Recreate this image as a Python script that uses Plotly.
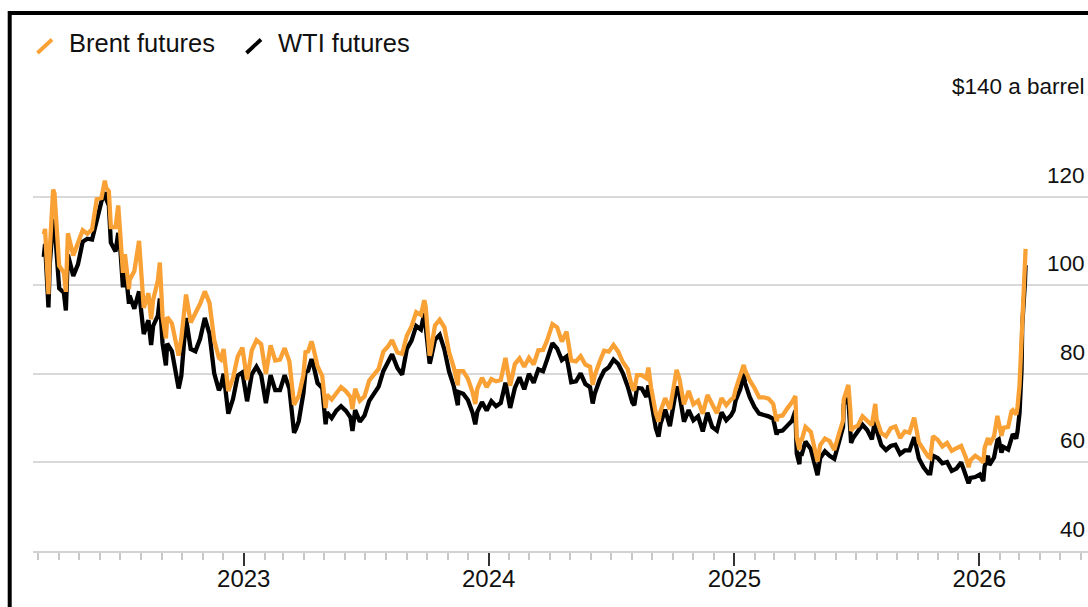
import plotly.graph_objects as go

# ---------------- data (front-month closes, $ a barrel) ----------------
dates_2022 = ["2022-03-09", "2022-03-11", "2022-03-16", "2022-03-18", "2022-03-23", "2022-03-25",
              "2022-04-01", "2022-04-08", "2022-04-11", "2022-04-14", "2022-04-22", "2022-04-29",
              "2022-05-06", "2022-05-13", "2022-05-20", "2022-05-27", "2022-06-03", "2022-06-08",
              "2022-06-10", "2022-06-14", "2022-06-17", "2022-06-24", "2022-06-28", "2022-07-01",
              "2022-07-05", "2022-07-08", "2022-07-14", "2022-07-15", "2022-07-22", "2022-07-29",
              "2022-08-05", "2022-08-12", "2022-08-16", "2022-08-19", "2022-08-26", "2022-08-29",
              "2022-09-02", "2022-09-07", "2022-09-09", "2022-09-16", "2022-09-23", "2022-09-26",
              "2022-09-30", "2022-10-07", "2022-10-14", "2022-10-21", "2022-10-28", "2022-11-04",
              "2022-11-11", "2022-11-18", "2022-11-25", "2022-11-28", "2022-12-02", "2022-12-09",
              "2022-12-16", "2022-12-23", "2022-12-30"]
brent_2022 = [111.5, 112.7, 98.0, 107.9, 121.6, 120.7,
              104.4, 102.8, 98.5, 111.7, 106.7, 109.3,
              112.4, 111.6, 112.6, 119.4, 119.7, 123.6,
              122.0, 121.2, 113.1, 113.1, 118.0, 111.6,
              102.8, 107.0, 99.1, 101.2, 103.2, 110.0,
              94.9, 98.2, 92.3, 96.7, 101.0, 105.1,
              93.0, 88.0, 92.8, 91.4, 86.2, 84.1,
              88.0, 97.9, 91.6, 93.5, 95.8, 98.6,
              96.0, 87.6, 83.6, 83.2, 85.6, 76.1,
              79.0, 83.9, 85.9]
wti_2022 = [106.4, 109.3, 95.0, 104.7, 114.9, 113.9,
            99.3, 98.3, 94.3, 106.9, 102.1, 104.7,
            109.8, 110.5, 110.3, 115.1, 118.9, 121.0,
            119.5, 118.0, 109.6, 107.6, 111.8, 108.4,
            99.5, 104.8, 95.8, 97.6, 94.7, 98.6,
            89.0, 92.1, 86.5, 90.8, 93.1, 97.0,
            86.9, 81.9, 86.8, 85.1, 78.7, 76.7,
            79.5, 92.6, 85.6, 85.1, 87.9, 92.6,
            89.0, 80.1, 76.3, 77.2, 80.0, 71.0,
            74.3, 79.6, 80.3]

dates_2023 = ["2023-01-06", "2023-01-13", "2023-01-20", "2023-01-27", "2023-02-03", "2023-02-10",
              "2023-02-17", "2023-02-24", "2023-03-03", "2023-03-10", "2023-03-17", "2023-03-20",
              "2023-03-24", "2023-03-31", "2023-04-03", "2023-04-07", "2023-04-12", "2023-04-14",
              "2023-04-21", "2023-04-28", "2023-05-03", "2023-05-05", "2023-05-12", "2023-05-19",
              "2023-05-26", "2023-06-02", "2023-06-09", "2023-06-12", "2023-06-16", "2023-06-23",
              "2023-06-30", "2023-07-07", "2023-07-14", "2023-07-21", "2023-07-28", "2023-08-04",
              "2023-08-10", "2023-08-18", "2023-08-25", "2023-09-01", "2023-09-08", "2023-09-15",
              "2023-09-22", "2023-09-27", "2023-09-29", "2023-10-05", "2023-10-06", "2023-10-13",
              "2023-10-20", "2023-10-27", "2023-11-03", "2023-11-10", "2023-11-16", "2023-11-17",
              "2023-11-24", "2023-12-01", "2023-12-08", "2023-12-12", "2023-12-15", "2023-12-22",
              "2023-12-29"]
brent_2023 = [78.6, 85.3, 87.6, 86.7, 80.0, 86.4,
              83.0, 83.2, 85.8, 82.8, 73.0, 73.8,
              75.0, 79.8, 84.9, 85.1, 87.3, 86.3,
              81.7, 79.5, 72.3, 75.3, 74.2, 75.6,
              77.0, 76.1, 74.8, 72.0, 76.6, 73.9,
              74.9, 78.5, 79.9, 81.1, 85.0, 86.2,
              87.6, 84.8, 84.5, 88.6, 90.7, 93.9,
              93.3, 96.6, 95.3, 84.1, 84.6, 90.9,
              92.2, 90.5, 84.9, 81.4, 77.4, 80.6,
              80.6, 78.9, 75.8, 73.2, 76.6, 79.1,
              77.0]
wti_2023 = [73.8, 79.9, 81.6, 79.7, 73.4, 79.7,
            76.3, 76.3, 79.7, 76.7, 66.7, 67.6,
            69.3, 75.7, 80.4, 80.7, 83.3, 82.5,
            77.9, 76.8, 68.6, 71.3, 70.0, 71.7,
            72.7, 71.7, 70.2, 67.1, 71.8, 69.2,
            70.6, 73.9, 75.4, 77.1, 80.6, 82.8,
            84.4, 81.3, 79.8, 85.6, 87.5, 90.8,
            90.0, 93.7, 90.8, 82.3, 82.8, 87.7,
            88.8, 85.5, 80.5, 77.2, 72.9, 75.9,
            75.5, 74.1, 71.2, 68.6, 71.4, 73.6,
            71.7]

dates_2024 = ["2024-01-05", "2024-01-12", "2024-01-19", "2024-01-26", "2024-02-02", "2024-02-09",
              "2024-02-16", "2024-02-23", "2024-03-01", "2024-03-08", "2024-03-15", "2024-03-22",
              "2024-03-28", "2024-04-05", "2024-04-12", "2024-04-19", "2024-04-26", "2024-05-03",
              "2024-05-10", "2024-05-17", "2024-05-24", "2024-05-31", "2024-06-04", "2024-06-07",
              "2024-06-14", "2024-06-21", "2024-06-28", "2024-07-05", "2024-07-12", "2024-07-19",
              "2024-07-26", "2024-08-02", "2024-08-05", "2024-08-09", "2024-08-16", "2024-08-23",
              "2024-08-26", "2024-08-30", "2024-09-06", "2024-09-10", "2024-09-13", "2024-09-20",
              "2024-09-27", "2024-10-04", "2024-10-07", "2024-10-11", "2024-10-18", "2024-10-25",
              "2024-11-01", "2024-11-08", "2024-11-15", "2024-11-22", "2024-11-29", "2024-12-06",
              "2024-12-13", "2024-12-20", "2024-12-27", "2024-12-31"]
brent_2024 = [78.8, 78.3, 78.6, 83.6, 77.3, 82.2,
              83.5, 81.6, 83.6, 82.1, 85.3, 85.4,
              87.5, 91.2, 90.5, 87.3, 89.5, 83.0,
              82.8, 84.0, 82.1, 81.6, 77.5, 79.6,
              82.6, 85.2, 85.0, 86.5, 85.0, 82.6,
              81.1, 76.8, 76.3, 79.7, 79.7, 79.0,
              81.4, 76.9, 71.1, 69.2, 71.6, 74.5,
              72.0, 78.1, 80.9, 79.0, 73.1, 76.1,
              73.1, 73.9, 71.0, 75.2, 72.9, 71.1,
              74.5, 72.9, 74.2, 74.6]
wti_2024 = [73.8, 72.7, 73.4, 78.0, 72.3, 76.8,
            79.2, 76.5, 80.0, 78.0, 81.0, 80.6,
            83.2, 86.9, 85.7, 83.1, 83.9, 78.1,
            78.3, 80.1, 77.7, 77.0, 73.3, 75.5,
            78.5, 80.7, 81.5, 83.2, 82.2, 80.1,
            77.2, 73.5, 72.9, 76.8, 76.7, 74.8,
            77.4, 73.6, 67.7, 65.8, 68.7, 71.9,
            68.2, 74.4, 77.1, 75.6, 69.2, 71.8,
            69.5, 70.4, 67.0, 71.2, 68.0, 67.2,
            71.3, 69.5, 70.6, 71.7]

dates_2025 = ["2025-01-03", "2025-01-10", "2025-01-15", "2025-01-17", "2025-01-24", "2025-01-31",
              "2025-02-07", "2025-02-14", "2025-02-21", "2025-02-28", "2025-03-05", "2025-03-07",
              "2025-03-14", "2025-03-21", "2025-03-28", "2025-04-02", "2025-04-04", "2025-04-08",
              "2025-04-09", "2025-04-11", "2025-04-17", "2025-04-25", "2025-05-02", "2025-05-05",
              "2025-05-09", "2025-05-16", "2025-05-23", "2025-05-30", "2025-06-06", "2025-06-12",
              "2025-06-13", "2025-06-18", "2025-06-20", "2025-06-23", "2025-06-24", "2025-06-27",
              "2025-07-04", "2025-07-11", "2025-07-18", "2025-07-25", "2025-07-30", "2025-08-01",
              "2025-08-08", "2025-08-15", "2025-08-22", "2025-08-29", "2025-09-05", "2025-09-12",
              "2025-09-19", "2025-09-26", "2025-10-03", "2025-10-10", "2025-10-17", "2025-10-20",
              "2025-10-24", "2025-10-31", "2025-11-07", "2025-11-14", "2025-11-21", "2025-11-28",
              "2025-12-05", "2025-12-12", "2025-12-16", "2025-12-19", "2025-12-26"]
brent_2025 = [76.5, 79.8, 82.0, 80.8, 78.5, 76.8,
              74.7, 74.7, 74.4, 73.2, 69.3, 70.4,
              70.6, 72.2, 73.6, 75.0, 65.6, 62.8,
              65.5, 64.8, 68.0, 66.9, 61.3, 60.2,
              63.9, 65.4, 64.8, 62.8, 66.5, 69.4,
              74.2, 76.7, 77.5, 71.5, 67.1, 67.8,
              68.3, 70.4, 69.3, 68.4, 73.2, 69.7,
              66.6, 65.9, 67.7, 68.1, 65.5, 67.0,
              66.7, 70.1, 64.5, 62.7, 61.3, 61.0,
              65.9, 65.1, 63.6, 64.4, 62.6, 63.2,
              63.7, 61.1, 58.9, 60.5, 61.5]
wti_2025 = [74.0, 76.6, 80.0, 77.9, 74.7, 72.5,
            71.0, 70.7, 70.4, 69.8, 66.3, 67.0,
            67.2, 68.3, 69.4, 71.7, 62.0, 59.6,
            62.4, 61.5, 64.7, 63.0, 58.3, 57.1,
            61.0, 62.5, 61.5, 60.8, 64.6, 68.0,
            73.0, 74.5, 74.0, 68.5, 64.4, 65.5,
            67.0, 68.5, 67.3, 65.2, 70.0, 67.3,
            63.9, 62.8, 63.7, 64.0, 61.9, 62.7,
            62.7, 65.7, 60.9, 58.9, 57.5, 57.5,
            61.5, 61.0, 59.8, 60.1, 58.1, 58.6,
            60.0, 57.4, 55.3, 56.5, 56.7]

dates_2026 = ["2026-01-02", "2026-01-07", "2026-01-09", "2026-01-14", "2026-01-16", "2026-01-23",
              "2026-01-28", "2026-01-30", "2026-02-03", "2026-02-06", "2026-02-13", "2026-02-18",
              "2026-02-20", "2026-02-25", "2026-02-27", "2026-03-02", "2026-03-03", "2026-03-04",
              "2026-03-05", "2026-03-06", "2026-03-09", "2026-03-10", "2026-03-11"]
brent_2026 = [60.8, 60.0, 63.3, 65.5, 64.0, 65.9,
              70.5, 69.3, 66.0, 67.8, 68.0, 71.5,
              71.8, 70.8, 72.5, 77.5, 81.4, 81.0,
              85.0, 92.5, 100.0, 104.0, 108.2]
wti_2026 = [57.3, 55.8, 59.1, 61.5, 59.4, 61.1,
            65.0, 65.2, 62.2, 63.5, 62.9, 65.2,
            66.4, 65.4, 67.0, 71.2, 74.6, 74.7,
            81.0, 90.9, 96.5, 100.5, 104.5]

y_ticks = [40, 60, 80, 100, 120, 140]
y_labels = ["40", "60", "80", "100", "120", "$140 a barrel"]
series_names = ["Brent futures", "WTI futures"]

dates = dates_2022 + dates_2023 + dates_2024 + dates_2025 + dates_2026
brent = brent_2022 + brent_2023 + brent_2024 + brent_2025 + brent_2026
wti = wti_2022 + wti_2023 + wti_2024 + wti_2025 + wti_2026

# ---------------- style ----------------
ORANGE = "#F9A135"
BLACK = "#000000"
TEXT = "#111111"
FONT = "Liberation Sans, Arial, Helvetica, sans-serif"
W, H = 1088, 607
ML, MR, MT = 33, 0, 108
MB = H - 551
PW, PH = W - ML - MR, H - MT - MB


def px(xpage):
    return (xpage - ML) / PW


def py(ypage):
    return (H - MB - ypage) / PH


fig = go.Figure()
fig.add_trace(go.Scatter(x=dates, y=wti, mode="lines", name=series_names[1],
                         line=dict(color=BLACK, width=4.3), showlegend=False, hoverinfo="skip"))
fig.add_trace(go.Scatter(x=dates, y=brent, mode="lines", name=series_names[0],
                         line=dict(color=ORANGE, width=4.3), showlegend=False, hoverinfo="skip"))

annotations = []
for v, lab in zip(y_ticks, y_labels):
    annotations.append(dict(x=1, xref="paper", y=v, yref="y", text=lab, showarrow=False,
                            xanchor="right", yanchor="bottom", xshift=-1, yshift=7,
                            font=dict(family=FONT, size=22.5, color=TEXT)))

# legend (text + slash icons)
annotations.append(dict(x=px(67), y=py(43), xref="paper", yref="paper", text=series_names[0],
                        showarrow=False, xanchor="left", yanchor="middle",
                        font=dict(family=FONT, size=25.5, color=TEXT)))
annotations.append(dict(x=px(276), y=py(43), xref="paper", yref="paper", text=series_names[1],
                        showarrow=False, xanchor="left", yanchor="middle",
                        font=dict(family=FONT, size=25.5, color=TEXT)))

shapes = [
    dict(type="line", xref="paper", yref="paper", x0=px(37.5), y0=py(53), x1=px(52), y1=py(39.5),
         line=dict(color=ORANGE, width=3.8)),
    dict(type="line", xref="paper", yref="paper", x0=px(246.5), y0=py(53), x1=px(261), y1=py(39.5),
         line=dict(color=BLACK, width=3.8)),
    dict(type="rect", xref="paper", yref="paper", x0=px(9.7), y0=py(700), x1=px(1300), y1=py(13),
         line=dict(color=BLACK, width=4), fillcolor="rgba(0,0,0,0)"),
]

fig.update_layout(
    width=W, height=H,
    margin=dict(l=ML, r=MR, t=MT, b=MB, pad=0),
    paper_bgcolor="white", plot_bgcolor="white",
    showlegend=False,
    annotations=annotations,
    shapes=shapes,
    font=dict(family=FONT, color=TEXT),
    xaxis=dict(
        type="date", range=["2022-02-21", "2026-06-12"],
        showgrid=False, zeroline=False,
        showline=True, linecolor="#d2d2d2", linewidth=2,
        ticks="outside", ticklen=13, tickwidth=1.5, tickcolor="#333333",
        tick0="2023-01-01", dtick="M12", tickformat="%Y",
        tickfont=dict(family=FONT, size=24, color=TEXT),
        ticklabelstandoff=-8,
        minor=dict(ticks="outside", ticklen=7, tickwidth=1.5, tickcolor="#c8c8c8",
                   tick0="2023-01-01", dtick="M1", showgrid=False),
        automargin=False, fixedrange=True,
    ),
    yaxis=dict(
        range=[40, 140], tickvals=y_ticks, showticklabels=False,
        showgrid=True, gridcolor="#d9d9d9", gridwidth=2,
        zeroline=False, showline=False, ticks="",
        automargin=False, fixedrange=True,
    ),
)

# place the figure at the page's top-left corner (no default body margin / scrollbars)
fig.write_html("out.html",
               config={"displayModeBar": False},
               post_script="document.body.style.margin='0';document.body.style.overflow='hidden';")
